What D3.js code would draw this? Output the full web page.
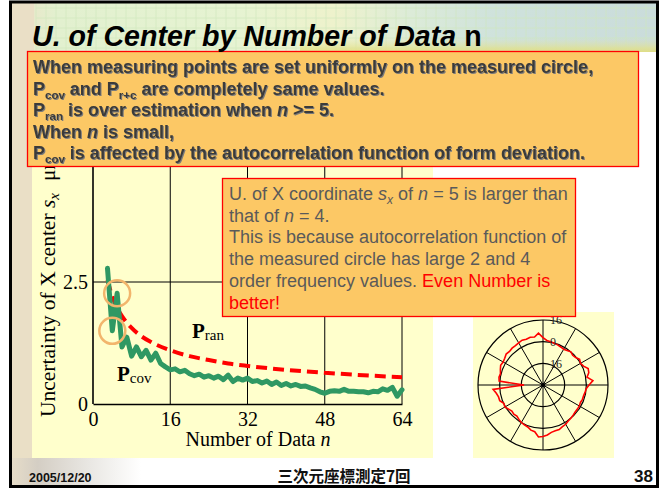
<!DOCTYPE html>
<html>
<head>
<meta charset="utf-8">
<script src="https://cdn.jsdelivr.net/npm/d3@7"></script>
<style>
  body { margin: 0; background: #fff; }
  svg { display: block; }
</style>
</head>
<body>
<svg id="slide" width="666" height="488"></svg>
<script>
// ---- data ---------------------------------------------------------------
// number of measuring points n and the covariance-based uncertainty P_cov (µm)
const covCounts = [3, 4, 5, 6, 7, 8, 9, 10, 11, 12, 13, 14, 15, 16, 17, 18, 19, 20,
  21, 22, 23, 24, 25, 26, 27, 28, 29, 30, 31, 32, 33, 34, 35, 36, 37, 38, 39, 40,
  41, 42, 43, 44, 45, 46, 47, 48, 49, 50, 51, 52, 53, 54, 55, 56, 57, 58, 59, 60,
  61, 62, 63, 64];
const covValues = [2.78, 1.50, 2.27, 1.17, 1.37, 0.98, 1.17, 0.97, 1.10, 0.90, 1.04, 0.83,
  0.76, 0.70, 0.72, 0.66, 0.69, 0.62, 0.58, 0.61, 0.55, 0.58, 0.53, 0.57, 0.50, 0.59,
  0.46, 0.53, 0.49, 0.53, 0.46, 0.48, 0.43, 0.47, 0.40, 0.45, 0.38, 0.42, 0.37, 0.40,
  0.36, 0.37, 0.33, 0.30, 0.25, 0.22, 0.26, 0.27, 0.26, 0.30, 0.26, 0.26, 0.25, 0.25,
  0.23, 0.26, 0.25, 0.31, 0.28, 0.34, 0.16, 0.29];

// random-sampling estimate P_ran (µm)
const ranCounts = [3, 4, 5, 6, 8, 10, 12, 16, 20, 24, 28, 32, 40, 48, 56, 64];
const ranValues = [2.54, 2.20, 1.97, 1.80, 1.56, 1.39, 1.27, 1.10, 0.98, 0.90, 0.83, 0.78,
  0.70, 0.64, 0.59, 0.55];

// highlighted points (n = 4 and n = 5)
const circledCounts = [4, 5];

const xTicks = [0, 16, 32, 48, 64];
const yTicks = [0, 2.5];
const yTickLabels = ["0", "2.5"];

// form deviation of the measured circle (µm), one sample every 5°, counter-clockwise from +x
const profileDeviation = [2, 5, 1, 3, 3.5, 1, 0, 1, -0.5, -1, 0, -1,
  -1.5, -1, -0.5, 0, 0.5, 1, 3, 6.5, 4, 4.5, 4, 4.5,
  4, 3.5, 3.5, 3, 3.5, 2.5, 2, 2.5, 1.5, 0.5, 1, 0.5,
  -18, 5, 3, 2, 2, 0, 0.5, -1, -2, -1.5, -2, -1,
  0, 0.5, 1, 2.5, 3, 6.5, 6, 5, 3.5, 3, 3, 2,
  1.5, 0.5, 0, -0.5, -1, -1, -1, -1.5, -1, -1, -0.5, 0];
const profileStep = 5;
const ringValues = [-16, 0, 16];
const ringLabels = ["16", "0", "16"];

// ---- drawing ------------------------------------------------------------
const svg = d3.select("#slide");
const defs = svg.append("defs");
const SANS = "'Liberation Sans', Arial, sans-serif";
const SERIF = "'Liberation Serif', 'Times New Roman', serif";

svg.append("rect").attr("width", 666).attr("height", 488).attr("fill", "#fff");

// header band
const hg = defs.append("linearGradient").attr("id", "band");
[["0%", "#ece2c6"], ["7%", "#e2f0cf"], ["35%", "#e6f3d2"], ["50%", "#eef2cc"],
 ["62%", "#dcebd8"], ["75%", "#cfe2dc"], ["100%", "#cadcdb"]]
  .forEach(([o, c]) => hg.append("stop").attr("offset", o).attr("stop-color", c));
svg.append("rect").attr("x", 12).attr("y", 3).attr("width", 644).attr("height", 49)
  .attr("fill", "url(#band)");
const grid = svg.append("g").attr("stroke", "#cfe8bd").attr("stroke-width", 0.8).attr("opacity", 0.8);
d3.range(36, 656, 10).forEach(gx => grid.append("line").attr("x1", gx).attr("x2", gx).attr("y1", 4).attr("y2", 52));
d3.range(8, 52, 10).forEach(gy => grid.append("line").attr("x1", 36).attr("x2", 656).attr("y1", gy).attr("y2", gy));
const sg = defs.append("linearGradient").attr("id", "streak").attr("x1", 0).attr("x2", 0).attr("y1", 0).attr("y2", 1);
sg.append("stop").attr("offset", "0%").attr("stop-color", "#e6e49a").attr("stop-opacity", 0);
sg.append("stop").attr("offset", "100%").attr("stop-color", "#e2de7c").attr("stop-opacity", 0.9);
svg.append("rect").attr("x", 300).attr("y", 38).attr("width", 356).attr("height", 14).attr("fill", "url(#streak)");

// left parchment strip
svg.append("rect").attr("x", 12).attr("y", 3).attr("width", 22).attr("height", 483).attr("fill", "#eadfc6");

// footer band
const fg = defs.append("linearGradient").attr("id", "foot");
[["0%", "#e6dcc8"], ["4%", "#d4cec4"], ["12%", "#e9e7e3"], ["20%", "#ffffff"]]
  .forEach(([o, c]) => fg.append("stop").attr("offset", o).attr("stop-color", c));
svg.append("rect").attr("x", 12).attr("y", 458).attr("width", 644).attr("height", 28).attr("fill", "url(#foot)");

// ---- main chart ----
svg.append("rect").attr("x", 32).attr("y", 52).attr("width", 401).attr("height", 406).attr("fill", "#ffffcc");

const x = d3.scaleLinear().domain([0, 64]).range([93, 402]);
const y = d3.scaleLinear().domain([0, 5]).range([404, 160]);
const chart = svg.append("g");

// grid and frame
chart.append("g").selectAll("line").data(xTicks.slice(1)).join("line")
  .attr("x1", d => x(d)).attr("x2", d => x(d)).attr("y1", y(0)).attr("y2", y(5))
  .attr("stroke", "#000").attr("stroke-width", 1);
chart.append("g").selectAll("line").data([2.5, 5]).join("line")
  .attr("x1", x(0)).attr("x2", x(64)).attr("y1", d => y(d)).attr("y2", d => y(d))
  .attr("stroke", "#000").attr("stroke-width", 1);

const xAxis = chart.append("g").attr("transform", `translate(0,${y(0)})`)
  .call(d3.axisBottom(x).tickValues(xTicks).tickSize(0).tickPadding(8));
const yAxis = chart.append("g").attr("transform", `translate(${x(0)},0)`)
  .call(d3.axisLeft(y).tickValues(yTicks).tickFormat((d, i) => yTickLabels[i]).tickSize(0).tickPadding(5));
[xAxis, yAxis].forEach(a => {
  a.select(".domain").attr("stroke", "#000").attr("stroke-width", 1.6);
  a.selectAll("text").attr("font-family", SERIF).attr("font-size", 20).attr("fill", "#000");
});
yAxis.select(".domain").attr("d", `M0,${y(0)}V${y(5)}`);

// axis titles
chart.append("text").attr("x", 258).attr("y", 446).attr("text-anchor", "middle")
  .attr("font-family", SERIF).attr("font-size", 20)
  .call(t => { t.append("tspan").text("Number of Data "); t.append("tspan").attr("font-style", "italic").text("n"); });
const yTitle = chart.append("text").attr("transform", "translate(55,417) rotate(-90)")
  .attr("font-family", SERIF).attr("font-size", 21.5);
yTitle.append("tspan").text("Uncertainty of X center ");
yTitle.append("tspan").attr("font-style", "italic").text("s");
yTitle.append("tspan").attr("font-style", "italic").attr("font-size", 15).attr("dy", 4).text("x");
chart.append("text").attr("transform", "translate(55,181) rotate(-90)")
  .attr("font-family", SERIF).attr("font-size", 21).text("\u03bcm");

// P_ran dashed curve
chart.append("path")
  .datum(ranCounts.map((n, i) => [n, ranValues[i]]))
  .attr("d", d3.line().x(d => x(d[0])).y(d => y(d[1])).curve(d3.curveMonotoneX))
  .attr("fill", "none").attr("stroke", "#ff0000").attr("stroke-width", 4)
  .attr("stroke-dasharray", "11,6");

// P_cov zigzag
chart.append("path")
  .datum(covCounts.map((n, i) => [n, covValues[i]]))
  .attr("d", d3.line().x(d => x(d[0])).y(d => y(d[1])))
  .attr("fill", "none").attr("stroke", "#2f9863").attr("stroke-width", 5)
  .attr("stroke-linejoin", "round").attr("stroke-linecap", "round");

// highlight rings on n = 4 and n = 5
chart.append("g").selectAll("circle").data(circledCounts).join("circle")
  .attr("cx", n => x(n)).attr("cy", n => y(covValues[covCounts.indexOf(n)]))
  .attr("r", 13).attr("fill", "none").attr("stroke", "#f2b56c").attr("stroke-width", 2.5);

// series labels
function seriesLabel(px, py, sub) {
  const t = chart.append("text").attr("x", px).attr("y", py).attr("font-family", SERIF);
  t.append("tspan").attr("font-size", 21).attr("font-weight", "bold").text("P");
  t.append("tspan").attr("font-size", 15).attr("dy", 2).text(sub);
}
seriesLabel(192, 338, "ran");
seriesLabel(117, 381, "cov");

// ---- polar inset ----
svg.append("rect").attr("x", 473).attr("y", 312).attr("width", 141).attr("height", 146).attr("fill", "#ffffcc");
const pc = [543, 385];
const r = d3.scaleLinear().domain([-32, 16]).range([0, 65]);
const polar = svg.append("g").attr("transform", `translate(${pc[0]},${pc[1]})`);
polar.append("g").selectAll("line").data(d3.range(0, 360, 30)).join("line")
  .attr("x1", 0).attr("y1", 0)
  .attr("x2", a => r(16) * Math.cos(a * Math.PI / 180))
  .attr("y2", a => -r(16) * Math.sin(a * Math.PI / 180))
  .attr("stroke", "#000").attr("stroke-width", 1);
polar.append("g").selectAll("circle").data(ringValues).join("circle")
  .attr("r", d => r(d)).attr("fill", "none").attr("stroke", "#000").attr("stroke-width", 1.2);
polar.append("path")
  .datum(profileDeviation.map((v, i) => [i * profileStep, v]))
  .attr("d", d3.lineRadial().angle(d => (90 - d[0]) * Math.PI / 180).radius(d => r(d[1])).curve(d3.curveLinearClosed))
  .attr("fill", "none").attr("stroke", "#ff0000").attr("stroke-width", 1.6);
polar.append("circle").attr("r", 2.2).attr("fill", "#000");
polar.append("g").selectAll("text").data(ringValues).join("text")
  .attr("x", 7).attr("y", d => -r(d)).attr("dy", "0.35em")
  .attr("font-family", SERIF).attr("font-size", 12).attr("fill", "#222")
  .text((d, i) => ringLabels[i]);

// ---- callout boxes ----
const shadow = defs.append("filter").attr("id", "shade").attr("x", "-5%").attr("y", "-20%").attr("width", "110%").attr("height", "150%");
shadow.append("feDropShadow").attr("dx", 1).attr("dy", 1).attr("stdDeviation", 0.6).attr("flood-color", "#7a7a7a");

function richText(g, px, py, segs, opts) {
  const t = g.append("text").attr("x", px).attr("y", py)
    .attr("font-family", SANS).attr("font-size", opts.size)
    .attr("font-weight", opts.weight).attr("fill", opts.fill);
  let shifted = 0;
  segs.forEach(s => {
    const ts = t.append("tspan").text(s.t);
    const want = s.sub ? opts.subDy : 0;
    if (want !== shifted) { ts.attr("dy", want - shifted); shifted = want; }
    if (s.sub) ts.attr("font-size", opts.subSize);
    if (s.it) ts.attr("font-style", "italic");
    if (s.red) ts.attr("fill", "#ff0000");
  });
  return t;
}

const box1 = svg.append("g");
box1.append("rect").attr("x", 27.5).attr("y", 51.5).attr("width", 611).attr("height", 115)
  .attr("fill", "#fcc865").attr("stroke", "#ff0000").attr("stroke-width", 1.3);
const box1Lines = [
  [{ t: "When measuring points are set uniformly on the measured circle," }],
  [{ t: "P" }, { t: "cov", sub: true }, { t: " and P" }, { t: "r+c", sub: true }, { t: " are completely same values." }],
  [{ t: "P" }, { t: "ran", sub: true }, { t: " is over estimation when " }, { t: "n", it: true }, { t: " >= 5." }],
  [{ t: "When " }, { t: "n", it: true }, { t: " is small," }],
  [{ t: "P" }, { t: "cov", sub: true }, { t: " is affected by the autocorrelation function of form deviation." }]
];
const box1Text = box1.append("g").attr("filter", "url(#shade)");
box1Lines.forEach((segs, i) => richText(box1Text, 33, 73 + i * 21.6, segs,
  { size: 18, weight: "bold", fill: "#3b3b3b", subSize: 11.5, subDy: 4 }));

const box2 = svg.append("g");
box2.append("rect").attr("x", 222.5).attr("y", 178.5).attr("width", 353).attr("height", 138)
  .attr("fill", "#fcc865").attr("stroke", "#ff0000").attr("stroke-width", 1.3);
const box2Lines = [
  [{ t: "U. of X coordinate " }, { t: "s", it: true }, { t: "x", it: true, sub: true }, { t: " of " }, { t: "n", it: true }, { t: " = 5 is larger than" }],
  [{ t: "that of " }, { t: "n", it: true }, { t: " = 4." }],
  [{ t: "This is because autocorrelation function of" }],
  [{ t: "the measured circle has large 2 and 4" }],
  [{ t: "order frequency values. " }, { t: "Even Number is", red: true }],
  [{ t: "better!", red: true }]
];
box2Lines.forEach((segs, i) => richText(box2, 229, 200 + i * 21.7, segs,
  { size: 18, weight: "normal", fill: "#5a5a5a", subSize: 12, subDy: 4 }));

// ---- title ----
const title = svg.append("text").attr("x", 32).attr("y", 46)
  .attr("font-family", SANS).attr("font-size", 28.6).attr("font-weight", "bold").attr("fill", "#000");
title.append("tspan").attr("font-style", "italic").text("U. of Center by Number of Data ");
title.append("tspan").text("n");

// ---- footer ----
svg.append("text").attr("x", 29).attr("y", 482).attr("font-family", SANS).attr("font-size", 12.5)
  .attr("font-weight", "bold").attr("fill", "#111").text("2005/12/20");
svg.append("text").attr("x", 344).attr("y", 482).attr("text-anchor", "middle")
  .attr("font-family", "'Noto Sans CJK JP', sans-serif").attr("font-size", 15.5)
  .attr("font-weight", "bold").attr("fill", "#111").text("三次元座標測定7回");
svg.append("text").attr("x", 653).attr("y", 482).attr("text-anchor", "end").attr("font-family", SANS)
  .attr("font-size", 17).attr("font-weight", "bold").attr("fill", "#111").text("38");

// slide frame
svg.append("rect").attr("x", 10.5).attr("y", 2).attr("width", 647).attr("height", 484.5)
  .attr("fill", "none").attr("stroke", "#000").attr("stroke-width", 3);
</script>
</body>
</html>
